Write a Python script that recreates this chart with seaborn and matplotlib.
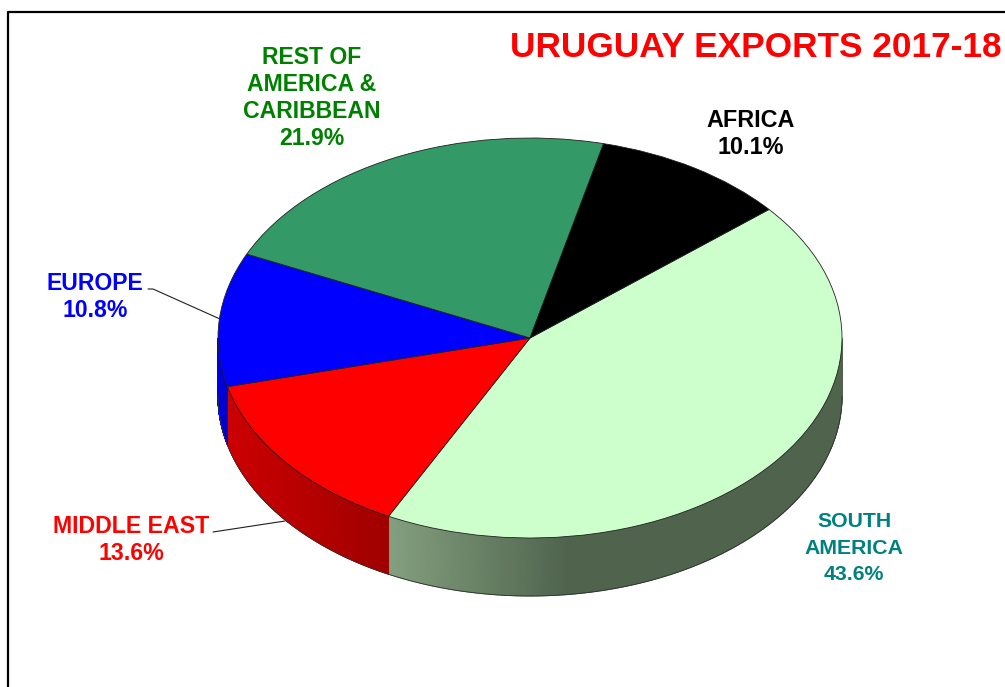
import numpy as np
import matplotlib
matplotlib.use("Agg")
import matplotlib.pyplot as plt
from matplotlib.lines import Line2D
from matplotlib.colors import LinearSegmentedColormap
import seaborn as sns

# ---- data ----
regions = ["SOUTH\nAMERICA", "MIDDLE EAST", "EUROPE", "REST OF\nAMERICA &\nCARIBBEAN", "AFRICA"]
shares = [43.6, 13.6, 10.8, 21.9, 10.1]
top_colors = ["#ccffcc", "#ff0000", "#0000ff", "#339966", "#000000"]
side_light = ["#84a07f", "#cc0000", "#0000e6", "#267350", "#000000"]
side_dark = ["#4f634d", "#a00000", "#0000cc", "#267350", "#000000"]
label_colors = ["#008080", "#ff0000", "#0000ff", "#008000", "#000000"]
title = "URUGUAY EXPORTS 2017-18"

W, H = 1005, 687
CX, CY, RX, RY, DEPTH = 530, 338, 312, 200, 58
START = 40

sns.set_theme(style="white")
plt.rcParams["font.family"] = ["Liberation Sans", "DejaVu Sans"]

fig = plt.figure(figsize=(W / 100, H / 100), dpi=100, facecolor="white")
ax = fig.add_axes([0, 0, 1, 1])
palette = sns.color_palette(top_colors)

wedges, _ = ax.pie(shares, colors=palette, startangle=START, counterclock=False, radius=1,
                   wedgeprops=dict(linewidth=0.6, edgecolor="#202020", zorder=5))
ax.set_aspect("auto")
ax.set_xlim(-CX / RX, (W - CX) / RX)
ax.set_ylim((CY - H) / RY, CY / RY)
ax.axis("off")
d = DEPTH / RY

# extruded rim, derived from the wedge angles of the pie
for w, lo, hi in zip(wedges, side_light, side_dark):
    a1, a2 = w.theta1 % 360, w.theta2 % 360
    if w is wedges[0]:
        a1, a2 = a1, 360          # wraps through 0 degrees; only the front part shows
    else:
        a1, a2 = min(a1, a2), max(a1, a2)
        a1, a2 = max(a1, 180), min(a2, 360)
    if a2 <= a1:
        continue
    th = np.radians(np.linspace(a1, a2, 200))
    xs, ys = np.cos(th), np.sin(th)
    span = (570 - 388) / RX if w is wedges[0] else max(xs[-1] - xs[0], 1e-6)
    t = np.clip((xs - xs[0]) / span, 0, 1)
    cmap = LinearSegmentedColormap.from_list("rim", [lo, hi])
    ax.pcolormesh(np.vstack([xs, xs]), np.vstack([ys, ys - d]), np.vstack([t, t]),
                  shading="gouraud", cmap=cmap, vmin=0, vmax=1, zorder=2)
    ax.plot(xs, ys - d, color="#303030", lw=0.6, zorder=3)

# frame
fig.add_artist(Line2D([8 / W, 8 / W, 1], [0, 1 - 12 / H, 1 - 12 / H], color="black", lw=1.6))


def px(x, y):
    return x / W, 1 - y / H


# leader lines
for xs_, ys_ in [((148, 153, 220), (289, 289, 319)), ((213, 285), (532, 521))]:
    fig.add_artist(Line2D([x / W for x in xs_], [1 - y / H for y in ys_], color="#202020", lw=0.8))

# labels
label_pos = [(854, 548), (131, 540), (95, 297), (312, 98), (751, 134)]
label_sizes = [15.3, 16.7, 16.6, 16.6, 16.8]
label_spacing = [1.5, 1.21, 1.22, 1.22, 1.2]
for name, val, col, (x, y), fs, ls in zip(regions, shares, label_colors, label_pos, label_sizes, label_spacing):
    fig.text(*px(x, y), f"{name}\n{val}%", color=col, fontsize=fs, fontweight="bold",
             ha="center", va="center", linespacing=ls)

fig.text(*px(756, 47.5), title, color="#ff0000", fontsize=25.4, fontweight="bold", ha="center", va="center")

fig.savefig("out.png", dpi=100)
